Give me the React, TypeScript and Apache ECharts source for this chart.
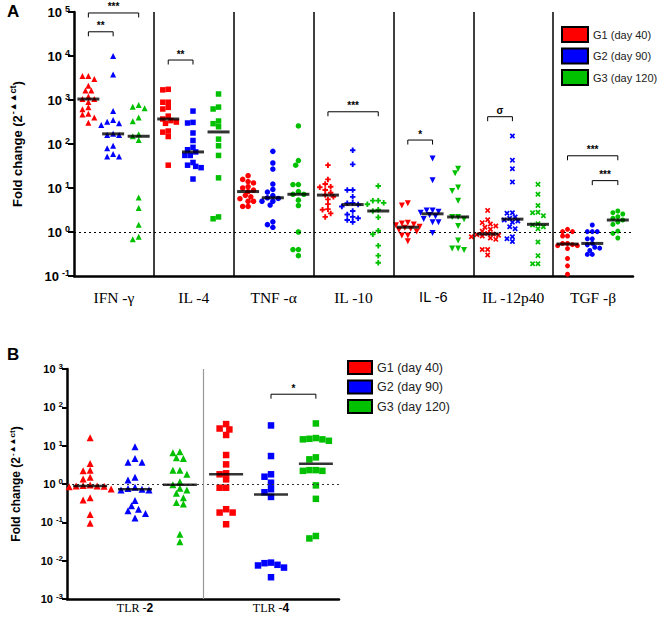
import React, { useEffect, useRef } from 'react';
import * as echarts from 'echarts';

const categoriesA = ['IFN -γ', 'IL -4', 'TNF -α', 'IL -10', 'IL -6', 'IL -12p40', 'TGF -β'];
const categoriesB = ['TLR -2', 'TLR -4'];
const groupNames = ['G1 (day 40)', 'G2 (day 90)', 'G3 (day 120)'];
const groupColors = ['#ff0000', '#0000ff', '#00c000'];

// Panel A values (fold change)
const ifnG1 = [3500, 3500, 3000, 2100, 1650, 1650, 1200, 1050, 1050, 900, 680, 620, 490, 470, 400, 305];
const ifnG2 = [10000, 3800, 560, 350, 320, 295, 270, 170, 160, 160, 91, 80, 59, 52, 52];
const ifnG3 = [770, 700, 650, 400, 330, 166, 150, 123, 6.1, 3.5, 1.47, 0.78, 0.68];
const il4G1 = [1750, 1700, 890, 890, 680, 625, 430, 370, 340, 315, 295, 197, 186, 148, 33];
const il4G2 = [560, 310, 300, 178, 120, 84, 74, 66, 55, 55, 38, 33, 31, 29, 16];
const il4G3 = [1370, 690, 625, 333, 290, 247, 129, 91, 55, 17, 2.2, 2.0];
const tnfG1 = [19, 15.7, 14, 13, 10.7, 10, 9, 8.3, 6.8, 6.3, 5.7, 5, 5, 3.8, 3.8];
const tnfG2 = [68, 37, 27, 12.3, 9.3, 8.1, 6.7, 6.0, 5.8, 5.0, 5.0, 4.1, 1.7, 1.47, 1.28];
const tnfG3 = [257, 42, 33, 12, 12, 8.3, 7.2, 7.2, 5.3, 4.0, 1.0, 0.4, 0.4, 0.29];
const il10G1 = [33, 15.7, 12.3, 10.7, 10.4, 9.0, 7.8, 6.9, 6.3, 5.5, 4.3, 3.3, 3.2, 2.65, 2.2];
const il10G2 = [72, 34.5, 9.0, 9.0, 6.3, 4.6, 4.5, 4.2, 3.8, 3.0, 2.5, 2.2, 2.05, 1.87, 1.69];
const il10G3 = [11.1, 5.15, 5.15, 4.6, 4.26, 3.2, 3.0, 2.15, 1.07, 0.89, 0.49, 0.29, 0.2];
const il6G1 = [4.5, 4.0, 1.63, 1.57, 1.49, 1.42, 1.32, 1.25, 1.19, 1.11, 1.02, 0.83, 0.83, 0.62];
const il6G2 = [47, 15, 3.1, 3.1, 2.9, 2.75, 2.43, 2.27, 1.97, 1.66, 1.66, 0.95];
const il6G3 = [27.5, 21.5, 10.2, 8.5, 5.1, 2.2, 2.2, 1.94, 1.37, 0.64, 0.42, 0.42, 0.39];
const il12G1 = [3.1, 1.9, 1.63, 1.52, 1.37, 1.28, 1.15, 1.04, 0.93, 0.9, 0.87, 0.84, 0.81, 0.78, 0.73, 0.68, 0.4, 0.4, 0.3];
const il12G2 = [152, 43, 27.5, 13.7, 2.75, 2.66, 2.19, 2.05, 1.87, 1.78, 1.66, 1.32, 1.19, 0.78, 0.7, 0.61];
const il12G3 = [12.1, 7.2, 4.0, 2.8, 2.75, 2.35, 1.55, 1.44, 1.32, 1.19, 0.59, 0.29, 0.19, 0.19];
const tgfG1 = [1.15, 1.02, 1.02, 0.81, 0.81, 0.55, 0.55, 0.515, 0.49, 0.49, 0.42, 0.25, 0.17, 0.11];
const tgfG2 = [1.44, 1.02, 1.02, 1.02, 0.7, 0.7, 0.55, 0.51, 0.45, 0.43, 0.38, 0.31, 0.31];
const tgfG3 = [3.0, 2.75, 2.56, 2.23, 2.05, 1.87, 1.69, 1.49, 1.05, 0.93, 0.73];

// Panel B values
const tlr2G1 = [16, 3.45, 2.3, 2.2, 1.5, 1.35, 0.94, 0.92, 0.89, 0.89, 0.87, 0.85, 0.74, 0.44, 0.38, 0.16, 0.095];
const tlr2G2 = [9.4, 4.6, 3.7, 3.7, 1.5, 1.27, 0.82, 0.76, 0.73, 0.7, 0.7, 0.37, 0.27, 0.22, 0.2, 0.17, 0.13];
const tlr2G3 = [6.9, 6.5, 4.85, 4.65, 2.3, 2.3, 1.8, 1.15, 0.96, 0.77, 0.7, 0.57, 0.44, 0.33, 0.3, 0.049, 0.031];
const tlr4G1 = [36.5, 28, 26.5, 19, 5.7, 3.25, 1.9, 1.79, 1.32, 0.8, 0.8, 0.22, 0.18, 0.18, 0.089];
const tlr4G2 = [33.7, 5.36, 1.79, 1.55, 1.08, 0.73, 0.61, 0.46, 0.0089, 0.0086, 0.0078, 0.0075, 0.0066, 0.0037];
const tlr4G3 = [38, 15.8, 15.1, 14.6, 14.6, 13.4, 4.95, 4.4, 2.3, 2.3, 2.2, 2.2, 0.92, 0.41, 0.044, 0.038];

// Significance brackets
const bracketCatA = [0, 0, 1, 3, 4, 5, 6, 6];
const bracketFromA = [0, 0, 0, 0, 0, 0, 0, 1];
const bracketToA = [1, 2, 1, 2, 1, 1, 2, 2];
const bracketYA = [35500, 95000, 8100, 540, 123, 417, 54, 14.7];
const bracketLabelA = ['**', '***', '**', '***', '*', 'σ', '***', '***'];
const bracketCatB = [1];
const bracketFromB = [1];
const bracketToB = [2];
const bracketYB = [220];
const bracketLabelB = ['*'];

const valuesA = [
  [ifnG1, ifnG2, ifnG3],
  [il4G1, il4G2, il4G3],
  [tnfG1, tnfG2, tnfG3],
  [il10G1, il10G2, il10G3],
  [il6G1, il6G2, il6G3],
  [il12G1, il12G2, il12G3],
  [tgfG1, tgfG2, tgfG3],
];
const valuesB = [
  [tlr2G1, tlr2G2, tlr2G3],
  [tlr4G1, tlr4G2, tlr4G3],
];

const PLUS = 'path://M3.3,0H6.7V3.3H10V6.7H6.7V10H3.3V6.7H0V3.3H3.3Z';
const CROSS = 'path://M0,2.2L2.2,0L5,2.8L7.8,0L10,2.2L7.2,5L10,7.8L7.8,10L5,7.2L2.2,10L0,7.8L2.8,5Z';
const symbolsA = ['triangle', 'rect', 'circle', PLUS, 'triangle', CROSS, 'circle'];
const rotateA = [0, 0, 0, 0, 180, 0, 0];
const sizesA = [6, 5.5, 5.5, 5.5, 6, 5.5, 5];
const symbolsB = ['triangle', 'rect'];
const sizesB = [7, 6.5];

const offsA = [0.18, 0.49, 0.81];
const offsB = [0.17, 0.5, 0.83];

const GA = { left: 67, top: 12, width: 566, height: 264 };
const GB = { left: 67, top: 369, width: 272, height: 230 };
const pxUnitA = GA.width / 7;
const pxDecA = GA.height / 6;
const pxUnitB = GB.width / 2;
const pxDecB = GB.height / 6;

function swarm(values: number[], center: number, pxUnit: number, pxDec: number, size: number) {
  const idx = values.map((_, i) => i).sort((a, b) => values[b] - values[a]);
  const placed: { x: number; y: number }[] = [];
  const out: number[][] = new Array(values.length);
  const step = size * 0.5;
  for (const i of idx) {
    const y = Math.log10(values[i]) * pxDec;
    let chosen = 0;
    for (let k = 0; k < 60; k++) {
      const off = (k % 2 === 0 ? 1 : -1) * Math.ceil(k / 2) * step;
      if (placed.every((p) => Math.hypot(p.x - off, p.y - y) >= size * 0.85)) {
        chosen = off;
        break;
      }
    }
    placed.push({ x: chosen, y });
    out[i] = [center + chosen / pxUnit, values[i]];
  }
  return out;
}

function median(v: number[]) {
  const s = [...v].sort((a, b) => a - b);
  const n = s.length;
  return n % 2 ? s[(n - 1) / 2] : (s[n / 2 - 1] + s[n / 2]) / 2;
}

const FONT = 'Liberation Sans, Arial, sans-serif';
const SERIF = 'Liberation Serif, Times New Roman, serif';

function buildOption() {
  const series: any[] = [];
  for (let g = 0; g < 3; g++) {
    const data: any[] = [];
    valuesA.forEach((grp, c) => {
      swarm(grp[g], c + offsA[g], pxUnitA, pxDecA, sizesA[c]).forEach((pt) => {
        data.push({ value: pt, symbol: symbolsA[c], symbolRotate: rotateA[c], symbolSize: sizesA[c] });
      });
    });
    series.push({
      name: groupNames[g], type: 'scatter', xAxisIndex: 1, yAxisIndex: 0, data,
      itemStyle: { color: groupColors[g], opacity: 1 }, z: 3, silent: true,
    });
  }
  for (let g = 0; g < 3; g++) {
    const data: any[] = [];
    valuesB.forEach((grp, c) => {
      swarm(grp[g], c + offsB[g], pxUnitB, pxDecB, sizesB[c]).forEach((pt) => {
        data.push({ value: pt, symbol: symbolsB[c], symbolSize: sizesB[c] });
      });
    });
    series.push({
      name: groupNames[g], type: 'scatter', xAxisIndex: 3, yAxisIndex: 1, data,
      itemStyle: { color: groupColors[g], opacity: 1 }, z: 3, silent: true,
    });
  }
  const medA: any[] = [];
  valuesA.forEach((grp, c) => grp.forEach((v, g) => medA.push([c + offsA[g], median(v)])));
  series.push({
    name: 'medianA', type: 'scatter', xAxisIndex: 1, yAxisIndex: 0, data: medA,
    symbol: 'rect', symbolSize: [22, 3], itemStyle: { color: '#000' }, z: 5, silent: true,
    markLine: {
      silent: true, symbol: ['none', 'none'], label: { show: false }, animation: false,
      data: [
        { yAxis: 1, lineStyle: { type: [2, 3], color: '#000', width: 1 } },
        ...[1, 2, 3, 4, 5, 6].map((x) => ({ xAxis: x, lineStyle: { type: 'solid', color: '#000', width: 1.5 } })),
      ],
    },
  });
  const medB: any[] = [];
  valuesB.forEach((grp, c) => grp.forEach((v, g) => medB.push([c + offsB[g], median(v)])));
  series.push({
    name: 'medianB', type: 'scatter', xAxisIndex: 3, yAxisIndex: 1, data: medB,
    symbol: 'rect', symbolSize: [34, 2.5], itemStyle: { color: '#000' }, z: 5, silent: true,
    markLine: {
      silent: true, symbol: ['none', 'none'], label: { show: false }, animation: false,
      data: [
        { yAxis: 1, lineStyle: { type: [2, 3], color: '#333', width: 1 } },
        { xAxis: 1, lineStyle: { type: 'solid', color: '#999', width: 1.2 } },
      ],
    },
  });
  const mkBrackets = (cats: number[], from: number[], to: number[], ys: number[], labels: string[], offs: number[], xi: number, yi: number) => ({
    type: 'custom', xAxisIndex: xi, yAxisIndex: yi, silent: true, z: 6,
    data: cats.map((c, i) => [c + offs[from[i]], c + offs[to[i]], ys[i]]),
    renderItem: (params: any, api: any) => {
      const p1 = api.coord([api.value(0), api.value(2)]);
      const p2 = api.coord([api.value(1), api.value(2)]);
      return {
        type: 'group',
        children: [
          {
            type: 'polyline',
            shape: { points: [[p1[0], p1[1] + 4.5], [p1[0], p1[1]], [p2[0], p2[1]], [p2[0], p2[1] + 4.5]] },
            style: { stroke: '#000', lineWidth: 1, fill: null },
          },
          {
            type: 'text', x: (p1[0] + p2[0]) / 2, y: p1[1] - 1,
            style: { text: labels[params.dataIndex], align: 'center', verticalAlign: 'bottom', fontSize: 10, fontWeight: 'bold', fontFamily: FONT, fill: '#000' },
          },
        ],
      };
    },
  });
  series.push(mkBrackets(bracketCatA, bracketFromA, bracketToA, bracketYA, bracketLabelA, offsA, 1, 0));
  series.push(mkBrackets(bracketCatB, bracketFromB, bracketToB, bracketYB, bracketLabelB, offsB, 3, 1));

  const logLabel = (fs: number, ss: number, lift: number) => ({
    color: '#000', margin: 4,
    formatter: (v: number) => `{b|10}{s|${Math.round(Math.log10(v))}}`,
    rich: {
      b: { fontSize: fs, fontWeight: 'bold', fontFamily: FONT, color: '#000' },
      s: { fontSize: ss, fontWeight: 'bold', fontFamily: FONT, color: '#000', padding: [0, 0, lift, 3] },
    },
  });
  const yName = '{t|Fold change (2}{s|-▲▲ct}{t|)}';

  return {
    animation: false,
    backgroundColor: '#fff',
    grid: [
      { ...GA, containLabel: false },
      { ...GB, containLabel: false },
    ],
    legend: [
      {
        data: groupNames, left: 561, top: 26, padding: 0, orient: 'vertical', icon: 'rect', itemWidth: 26, itemHeight: 15, itemGap: 4.5,
        selectedMode: false, itemStyle: { borderColor: '#000', borderWidth: 2 },
        textStyle: { fontSize: 11, fontFamily: FONT, color: '#222' },
      },
      {
        data: groupNames, left: 347, top: 360, padding: 0, orient: 'vertical', icon: 'rect', itemWidth: 24, itemHeight: 13, itemGap: 4.5,
        selectedMode: false, itemStyle: { borderColor: '#000', borderWidth: 2 },
        textStyle: { fontSize: 12.5, fontFamily: FONT, color: '#222' },
      },
    ],
    xAxis: [
      {
        type: 'category', gridIndex: 0, data: categoriesA, boundaryGap: true,
        axisLine: { show: true, lineStyle: { color: '#000', width: 2.5 } },
        axisTick: { show: false }, splitLine: { show: false },
        axisLabel: {
          interval: 0, margin: 13, color: '#000',
          formatter: (v: string) => (v === 'IL -6' ? `{s|${v}}` : `{r|${v}}`),
          rich: {
            r: { fontFamily: SERIF, fontSize: 15.5, color: '#000' },
            s: { fontFamily: FONT, fontSize: 14.5, color: '#000' },
          },
        },
      },
      { type: 'value', gridIndex: 0, min: 0, max: 7, show: false },
      {
        type: 'category', gridIndex: 1, data: categoriesB, boundaryGap: true,
        axisLine: { show: true, lineStyle: { color: '#000', width: 2.5 } },
        axisTick: { show: false }, splitLine: { show: false },
        axisLabel: {
          interval: 0, margin: 3, color: '#000',
          formatter: (v: string) => {
            const [a, b] = v.split('-');
            return `{n|${a}-}{b|${b}}`;
          },
          rich: {
            n: { fontFamily: SERIF, fontSize: 12, color: '#000' },
            b: { fontFamily: FONT, fontSize: 12, fontWeight: 'bold', color: '#000' },
          },
        },
      },
      { type: 'value', gridIndex: 1, min: 0, max: 2, show: false },
    ],
    yAxis: [
      {
        type: 'log', gridIndex: 0, logBase: 10, min: 0.1, max: 100000, interval: 1,
        axisLine: { show: true, lineStyle: { color: '#000', width: 2.5 } },
        axisTick: { show: true, length: 6, lineStyle: { color: '#000', width: 2 } },
        minorTick: { show: false }, splitLine: { show: false },
        axisLabel: logLabel(13, 9, 6),
        name: yName, nameLocation: 'middle', nameGap: 48, nameRotate: 90,
        nameTextStyle: {
          rich: {
            t: { fontSize: 13, fontWeight: 'bold', fontFamily: FONT, color: '#000' },
            s: { fontSize: 9, fontWeight: 'bold', fontFamily: FONT, color: '#000', padding: [0, 0, 9, 1] },
          },
        },
      },
      {
        type: 'log', gridIndex: 1, logBase: 10, min: 0.001, max: 1000, interval: 1,
        axisLine: { show: true, lineStyle: { color: '#000', width: 2.5 } },
        axisTick: { show: true, length: 5, lineStyle: { color: '#000', width: 2 } },
        minorTick: { show: false }, splitLine: { show: false },
        axisLabel: logLabel(11, 8, 5),
        name: yName, nameLocation: 'middle', nameGap: 43, nameRotate: 90,
        nameTextStyle: {
          rich: {
            t: { fontSize: 12, fontWeight: 'bold', fontFamily: FONT, color: '#000' },
            s: { fontSize: 8, fontWeight: 'bold', fontFamily: FONT, color: '#000', padding: [0, 0, 8, 1] },
          },
        },
      },
    ],
    graphic: [
      { type: 'text', left: 7, top: 3, style: { text: 'A', fontSize: 17, fontWeight: 'bold', fontFamily: FONT, fill: '#000' } },
      { type: 'text', left: 7, top: 346, style: { text: 'B', fontSize: 17, fontWeight: 'bold', fontFamily: FONT, fill: '#000' } },
    ],
    series,
  };
}

export default function App() {
  const ref = useRef<HTMLDivElement>(null);
  useEffect(() => {
    if (!ref.current) return;
    const chart = echarts.init(ref.current, null, { renderer: 'svg' });
    chart.setOption(buildOption() as any);
    return () => chart.dispose();
  }, []);
  return (
    <div
      ref={ref}
      style={{ position: 'absolute', left: 0, top: 0, width: 662, height: 620, background: '#fff' }}
    />
  );
}
